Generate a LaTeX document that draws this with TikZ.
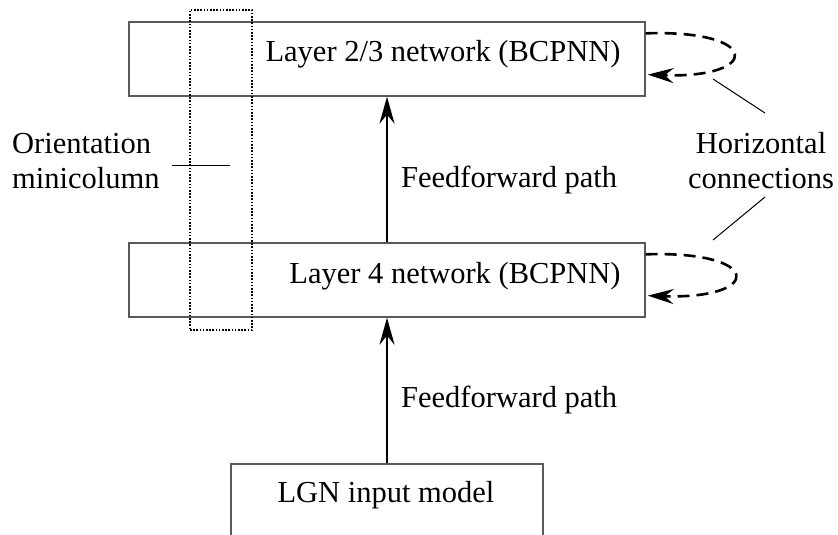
\documentclass[tikz,border=0pt]{standalone}
\usepackage{fontspec}
\setmainfont{Liberation Serif}
\usetikzlibrary{arrows.meta}
\begin{document}
\begin{tikzpicture}[x=1pt,y=-1pt,
  layerbox/.style={draw=black!65, line width=1.3pt, inner sep=0pt,
                   minimum width=516pt, minimum height=74pt},
  inputbox/.style={draw=black!65, line width=1.3pt, inner sep=0pt,
                   minimum width=312pt, minimum height=120pt},
  column/.style={draw, line width=1.6pt, dash pattern=on 1.6pt off 1.6pt,
                 inner sep=0pt, minimum width=62pt, minimum height=320pt},
  lbl/.style={inner sep=0pt, font=\fontsize{30.5pt}{35pt}\selectfont},
  ff/.style={line width=2.4pt, -{Stealth[length=27pt,width=15pt,inset=9pt]}},
  horiz/.style={line width=2.6pt, dash pattern=on 12pt off 7pt,
                -{Stealth[length=26pt,width=15pt,inset=9pt]}},
  pointer/.style={line width=1pt}
]
\clip (0,0) rectangle (838,535);

% cortical layers and the LGN stage (its box runs off the lower edge)
\node[layerbox] (l23) at (387,59) {};
\node[layerbox] (l4)  at (387,280) {};
\node[inputbox] (lgn) at (387,524) {};
\node[column]   (mini) at (221,170) {};

% box captions
\node[lbl, anchor=base] (l23txt) at (443,62)  {Layer 2/3 network (BCPNN)};
\node[lbl, anchor=base] (l4txt)  at (455,283) {Layer 4 network (BCPNN)};
\node[lbl, anchor=base] (lgntxt) at (386,502) {LGN input model};

% feedforward pathway
\draw[ff] (lgn.north) -- (l4.south);
\draw[ff] (l4.north) -- (l23.south);
\node[lbl, anchor=base west] (ff1) at (401,187) {Feedforward path};
\node[lbl, anchor=base west] (ff2) at (401,407) {Feedforward path};

% recurrent horizontal connections within each layer
\draw[horiz] ([yshift=-12pt]l23.north east) .. controls +(116,-4) and +(114,4)
  .. ([xshift=2pt,yshift=22pt]l23.south east);
\draw[horiz] ([yshift=-12pt]l4.north east) .. controls +(118,-4) and +(116,4)
  .. ([xshift=2pt,yshift=22pt]l4.south east);

% side labels with their pointer lines (base = baseline of the last line)
\node[lbl, anchor=base west, align=left] (ori) at (12,188) {Orientation\\minicolumn};
\node[lbl, anchor=base, align=center] (hc) at (761,188) {Horizontal\\connections};

\coordinate (oriA) at (172,165);
\coordinate (oriB) at (230,165);
\draw[pointer] (oriA) -- (oriB);

\coordinate (hcA) at (713,79);
\coordinate (hcB) at (765,113);
\coordinate (hcC) at (765,197);
\coordinate (hcD) at (713,240);
\draw[pointer] (hcA) -- (hcB);
\draw[pointer] (hcC) -- (hcD);
\end{tikzpicture}
\end{document}
